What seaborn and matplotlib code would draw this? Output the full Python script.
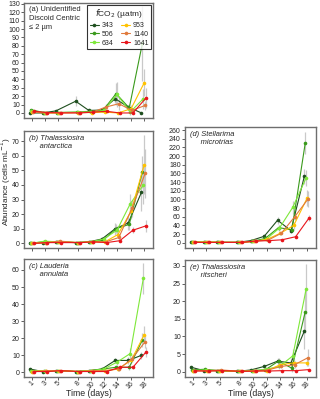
import pandas as pd
import numpy as np
import matplotlib
matplotlib.use("Agg")
import matplotlib.pyplot as plt
from matplotlib.lines import Line2D
import seaborn as sns

# ---- data ----
days = [1, 3, 5, 8, 10, 12, 14, 16, 18]
co2_levels = ["343", "506", "634", "953", "1140", "1641"]
co2_colors = ["#1f4f1f", "#3a9a1c", "#7ee83a", "#ffc200", "#e07a3c", "#e8151b"]

a_vals = [[0, 0, 2.5, 14, 3, 3.5, 17, 7, 0],
          [4, 0.5, 0.5, 1, 2, 3, 23, 6, 83],
          [2, 0.5, 0.5, 1, 1, 3, 22, 1, 17],
          [1, 0, 0, 0.5, 0.5, 1, 0, 5, 36],
          [1, 0, 0.5, 0.5, 1, 7, 11, 3, 9],
          [2, 0.5, 0, 0, 1, 2, 0, 0, 18]]
a_err = [[0.5, 0.5, 1, 6, 1, 1, 5, 3, 0.5],
         [1, 0.5, 0.5, 0.5, 1, 2, 13, 5, 45],
         [1, 0.5, 0.5, 0.5, 1, 2, 15, 3, 12],
         [0.5, 0.3, 0.3, 0.3, 0.5, 1, 0.5, 4, 16],
         [0.5, 0.3, 0.3, 0.5, 0.5, 4, 8, 2, 5],
         [0.5, 0.3, 0.3, 0.3, 0.5, 1, 0.5, 0.5, 12]]

b_vals = [[0, 0.5, 1, 0.5, 1, 3, 10, 14, 35],
          [0, 1, 1, 0.5, 1, 2, 10, 13, 49],
          [0, 1.5, 1, 0.5, 1, 3, 9, 27, 40],
          [0, 0.5, 1, 0.5, 1, 1, 6, 22, 54],
          [0, 0.5, 1.5, 0.5, 1, 1, 4, 24, 48],
          [0, 0.5, 0.5, 0.5, 1, 0.5, 1.8, 9, 12]]
b_err = [[0.2, 0.3, 0.3, 0.2, 0.3, 1, 4, 5, 13],
         [0.2, 0.5, 0.3, 0.2, 0.3, 1, 3, 4, 11],
         [0.2, 0.5, 0.3, 0.2, 0.3, 1, 3, 7, 13],
         [0.2, 0.3, 0.3, 0.2, 0.3, 0.5, 2, 5, 20],
         [0.2, 0.3, 0.3, 0.2, 0.3, 0.5, 2, 6, 17],
         [0.2, 0.3, 0.3, 0.2, 0.3, 0.3, 0.5, 2, 4]]

c_vals = [[2, 0.5, 1, 0.5, 1, 2, 7, 7, 10],
          [1, 1, 1, 0.5, 1, 2, 3, 3, 19],
          [1, 1, 1, 0.5, 1, 2, 6, 11, 55],
          [0.5, 1, 1, 0.5, 1, 1, 2, 7, 22],
          [0.5, 1, 1, 0.5, 1, 1, 2, 8, 18],
          [0.5, 0.5, 1, 0.5, 0.5, 0.5, 3, 3, 12]]
c_err = [[0.5, 0.3, 0.3, 0.2, 0.3, 0.5, 1.5, 2, 2],
         [0.3, 0.3, 0.3, 0.2, 0.3, 0.5, 1, 1.5, 4],
         [0.3, 0.3, 0.3, 0.2, 0.3, 0.5, 1.5, 3, 9],
         [0.3, 0.3, 0.3, 0.2, 0.3, 0.3, 1, 2, 5],
         [0.3, 0.3, 0.3, 0.2, 0.3, 0.3, 1, 2, 4],
         [0.3, 0.3, 0.3, 0.2, 0.3, 0.3, 0.5, 1, 3]]

d_vals = [[2, 1, 1, 1, 5, 15, 52, 28, 153],
          [2, 1, 1, 1, 3, 10, 35, 30, 230],
          [2, 2, 1, 1, 3, 8, 34, 82, 150],
          [1, 2, 1, 1, 3, 8, 22, 40, 103],
          [1, 1, 1, 1, 4, 6, 22, 60, 101],
          [1, 1, 1, 1, 4, 5, 7, 14, 57]]
d_err = [[1, 1, 1, 1, 1, 3, 8, 5, 18],
         [1, 1, 1, 1, 1, 2, 5, 6, 25],
         [1, 1, 1, 1, 1, 2, 6, 15, 18],
         [1, 1, 1, 1, 1, 2, 4, 8, 18],
         [1, 1, 1, 1, 1, 2, 4, 8, 18],
         [1, 1, 1, 1, 1, 1, 2, 3, 6]]

e_vals = [[1.3, 0.3, 0.3, 0.1, 0.5, 1.5, 3, 2.5, 11.5],
          [0.5, 0.7, 0.3, 0.1, 0.3, 0.5, 3, 1, 17],
          [0.3, 0.5, 0.3, 0.1, 0.3, 0.7, 1.5, 4.5, 23.5],
          [0.3, 0.3, 0.3, 0.1, 0.2, 0.3, 2, 2.5, 2.5],
          [0.3, 0.3, 0.5, 0.1, 0.2, 0.5, 1.5, 2, 4],
          [0.2, 0.2, 0.3, 0.1, 0.2, 0.2, 0.3, 0.3, 0.6]]
e_err = [[0.2, 0.2, 0.2, 0.1, 0.2, 0.5, 1, 1.5, 5],
         [0.2, 0.2, 0.2, 0.1, 0.2, 0.3, 1, 1, 6],
         [0.2, 0.2, 0.2, 0.1, 0.2, 0.3, 0.8, 2, 7],
         [0.1, 0.1, 0.1, 0.1, 0.1, 0.2, 0.8, 1, 1],
         [0.1, 0.1, 0.1, 0.1, 0.1, 0.2, 0.5, 1, 2.5],
         [0.1, 0.1, 0.1, 0.1, 0.1, 0.1, 0.2, 0.2, 0.3]]

sns.set_style("white")
plt.rcParams['font.family'] = ['Liberation Sans', 'DejaVu Sans']

palette = dict(zip(co2_levels, co2_colors))
dodge = dict(zip(co2_levels, np.linspace(-0.35, 0.35, len(co2_levels))))
spine_col = "#6e6e6e"


def make_df(vals, errs):
    rows = []
    for lev, v, e in zip(co2_levels, vals, errs):
        for d, y, s in zip(days, v, e):
            rows.append({"co2": lev, "day": d + dodge[lev], "val": y, "err": s})
    return pd.DataFrame(rows)


def draw_panel(ax, vals, errs, ylim, yticks, label, italic, show_x):
    df = make_df(vals, errs)
    ax.errorbar(df["day"], df["val"], yerr=df["err"], fmt="none",
                ecolor="#c9c9c9", elinewidth=0.9, capsize=0, zorder=1)
    sns.lineplot(data=df, x="day", y="val", hue="co2", hue_order=co2_levels,
                 palette=palette, marker="o", markersize=2.6, markeredgewidth=0,
                 linewidth=0.8, errorbar=None, sort=False, legend=False,
                 ax=ax, zorder=2)
    ax.set_xlim(-0.2, 19.4)
    ax.set_ylim(*ylim)
    ax.set_yticks(yticks)
    ax.set_xticks(days)
    ax.set_xlabel("")
    ax.set_ylabel("")
    for s in ax.spines.values():
        s.set_color(spine_col)
        s.set_linewidth(1.0)
    ax.tick_params(axis="both", which="both", length=2.2, width=0.6,
                   color="#444444", labelsize=5.0, pad=0.8, bottom=True, left=True)
    if show_x:
        ax.set_xticklabels([str(d) for d in days], rotation=45, ha="center")
        ax.tick_params(axis="x", pad=0)
        ax.set_xlabel("Time (days)", fontsize=6.3, labelpad=-1)
    else:
        ax.set_xticklabels([])
    ax.text(0.035, 0.97, label, transform=ax.transAxes, va="top", ha="left",
            fontsize=5.4, style="italic" if italic else "normal", linespacing=1.35)


fig = plt.figure(figsize=(3.2, 3.99), dpi=100)
W, H = 320, 399


def add_ax(left, top, right, bottom):
    return fig.add_axes([left / W, 1 - bottom / H, (right - left) / W, (bottom - top) / H])


ax_a = add_ax(24, 3, 153, 118)
ax_b = add_ax(24, 131, 153, 248)
ax_c = add_ax(24, 259, 153, 377)
ax_d = add_ax(185, 127, 316, 248)
ax_e = add_ax(185, 260, 316, 377)

draw_panel(ax_a, a_vals, a_err, (-6, 131), range(0, 131, 10),
           "(a) Unidentified\nDiscoid Centric\n\u2264 2 \u00b5m", False, False)
draw_panel(ax_b, b_vals, b_err, (-3.2, 77), range(0, 71, 10),
           "(b) Thalassiosira\n     antarctica", True, False)
draw_panel(ax_c, c_vals, c_err, (-2.7, 66.4), range(0, 61, 10),
           "(c) Lauderia\n     annulata", True, True)
draw_panel(ax_d, d_vals, d_err, (-12, 267), range(0, 261, 20),
           "(d) Stellarima\n     microtrias", True, False)
draw_panel(ax_e, e_vals, e_err, (-1.5, 31.7), range(0, 31, 5),
           "(e) Thalassiosira\n     ritscheri", True, True)

handles = [Line2D([0], [0], color=c, marker="o", markersize=2.6,
                  markeredgewidth=0, linewidth=0.8) for c in co2_colors]
leg = ax_a.legend(handles, co2_levels, ncol=2, loc="upper right",
                  bbox_to_anchor=(0.995, 0.995), fontsize=5.0,
                  title="$f$CO$_2$ (\u00b5atm)", title_fontsize=6.0,
                  frameon=True, fancybox=False, handlelength=1.3,
                  handletextpad=0.4, columnspacing=1.1, labelspacing=0.25,
                  borderpad=0.35, borderaxespad=0.2)
leg.get_frame().set_edgecolor("black")
leg.get_frame().set_linewidth(0.8)

fig.text(0.0185, 0.544, "Abundance (cells mL$^{-1}$)", rotation=90,
         ha="center", va="center", fontsize=5.9)

fig.savefig("out.png", dpi=100)
